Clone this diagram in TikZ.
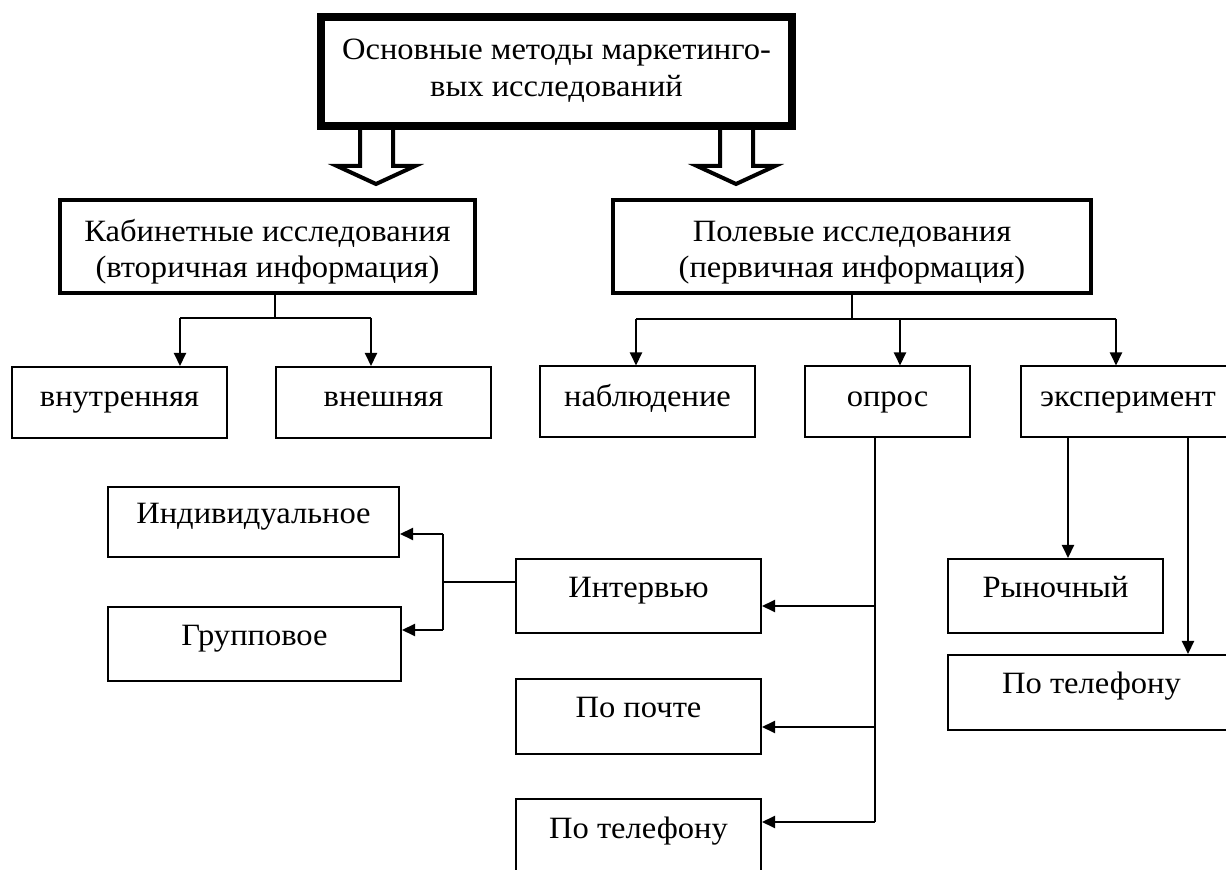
\documentclass[tikz,border=0pt]{standalone}
\usepackage{fontspec}
\setmainfont[FakeStretch=1.05]{Liberation Serif}
\usetikzlibrary{arrows.meta,calc}
\begin{document}
\begin{tikzpicture}[x=0.5pt,y=-0.5pt,
  txt/.style={font=\fontsize{15.5}{18}\selectfont},
  box/.style={draw, line width=1pt, inner sep=0pt, txt, text height=11pt, text depth=9.5pt},
  rowbox/.style={box, text depth=6.5pt},
  bigbox/.style={draw, line width=2.25pt, inner sep=0pt, txt, align=center},
  topbox/.style={draw, line width=4pt, inner sep=0pt, font=\fontsize{15.5}{18.5}\selectfont, align=center},
  line/.style={line width=1pt},
  arr/.style={line width=1pt, -{Triangle[length=6.5pt,width=6pt]}},
  hollow/.style={line width=2pt, line join=miter}
]
\useasboundingbox (0,0) rectangle (1226,870);
\fill[white] (0,0) rectangle (1226,870);
\clip (0,0) rectangle (1226,870);

% nodes
\node[topbox, minimum width=235.5pt, minimum height=54.5pt] (top) at (556.5,71.5)
  {\rule{0pt}{12pt}Основные методы маркетинго-\\вых исследований\rule[-5pt]{0pt}{5pt}};
\node[bigbox, minimum width=207.5pt, minimum height=46.5pt] (cab) at (267.5,246.5)
  {\rule{0pt}{18pt}Кабинетные исследования\\(вторичная информация)\rule[-4.5pt]{0pt}{4.5pt}};
\node[bigbox, minimum width=239pt, minimum height=46.5pt] (pol) at (852,246.5)
  {\rule{0pt}{18pt}Полевые исследования\\(первичная информация)\rule[-4.5pt]{0pt}{4.5pt}};

\node[rowbox, minimum width=107.5pt, minimum height=35.5pt] (vnutr) at (119.5,402.5) {внутренняя};
\node[rowbox, minimum width=107.5pt, minimum height=35.5pt] (vnesh) at (383.5,402.5) {внешняя};
\node[rowbox, minimum width=107.5pt, minimum height=35.5pt] (nabl) at (647.5,402) {наблюдение};
\node[rowbox, minimum width=82.5pt, minimum height=35.5pt] (opros) at (887.5,402) {опрос};
\node[rowbox, minimum width=107pt, minimum height=35.5pt] (exper) at (1128,402) {эксперимент};

\node[box, minimum width=145.5pt, minimum height=35pt] (indiv) at (253.5,522) {Индивидуальное};
\node[box, minimum width=146.5pt, minimum height=37pt] (grup) at (254.5,644) {Групповое};
\node[box, minimum width=122.5pt, minimum height=37pt] (interv) at (638.5,596) {Интервью};
\node[box, minimum width=122.5pt, minimum height=37.5pt] (pochta) at (638.5,716.5) {По почте};
\node[box, minimum width=122.5pt, minimum height=37.5pt] (telA) at (638.5,836.5) {По телефону};
\node[box, minimum width=107.5pt, minimum height=37pt] (ryn) at (1055.5,596) {Рыночный};
\node[box, minimum width=143.5pt, minimum height=37.5pt] (telB) at (1091.5,692.5) {По телефону};

% hollow arrows from top box
\draw[hollow] (360,128) -- (360,166) -- (337,166) -- (376,184) -- (415,166) -- (393,166) -- (393,128);
\draw[hollow] (720,128) -- (720,166) -- (697,166) -- (736,184) -- (775,166) -- (753,166) -- (753,128);

% cabinet branch
\coordinate (k) at (275,318);
\coordinate (a1) at (180,318);
\coordinate (a2) at (371,318);
\draw[line] (k |- cab.south) -- (k);
\draw[line] (a1) -- (a2);
\draw[arr] (a1) -- (a1 |- vnutr.north);
\draw[arr] (a2) -- (a2 |- vnesh.north);

% field branch
\coordinate (p) at (852,319);
\coordinate (b1) at (636,319);
\coordinate (b2) at (900,319);
\coordinate (b3) at (1116,319);
\draw[line] (p |- pol.south) -- (p);
\draw[line] (b1) -- (b3);
\draw[arr] (b1) -- (b1 |- nabl.north);
\draw[arr] (b2) -- (b2 |- opros.north);
\draw[arr] (b3) -- (b3 |- exper.north);

% opros branch
\coordinate (o1) at (875,606);
\coordinate (o2) at (875,727);
\coordinate (o3) at (875,822);
\draw[line] (o1 |- opros.south) -- (o3);
\draw[arr] (o1) -- (o1 -| interv.east);
\draw[arr] (o2) -- (o2 -| pochta.east);
\draw[arr] (o3) -- (o3 -| telA.east);

% interview branch
\coordinate (i) at (443,582);
\coordinate (i1) at (443,534);
\coordinate (i2) at (443,630);
\draw[line] (i -| interv.west) -- (i);
\draw[line] (i1) -- (i2);
\draw[arr] (i1) -- (i1 -| indiv.east);
\draw[arr] (i2) -- (i2 -| grup.east);

% experiment branch
\coordinate (e1) at (1068,0);
\coordinate (e2) at (1188,0);
\draw[arr] (e1 |- exper.south) -- (e1 |- ryn.north);
\draw[arr] (e2 |- exper.south) -- (e2 |- telB.north);
\end{tikzpicture}
\end{document}
